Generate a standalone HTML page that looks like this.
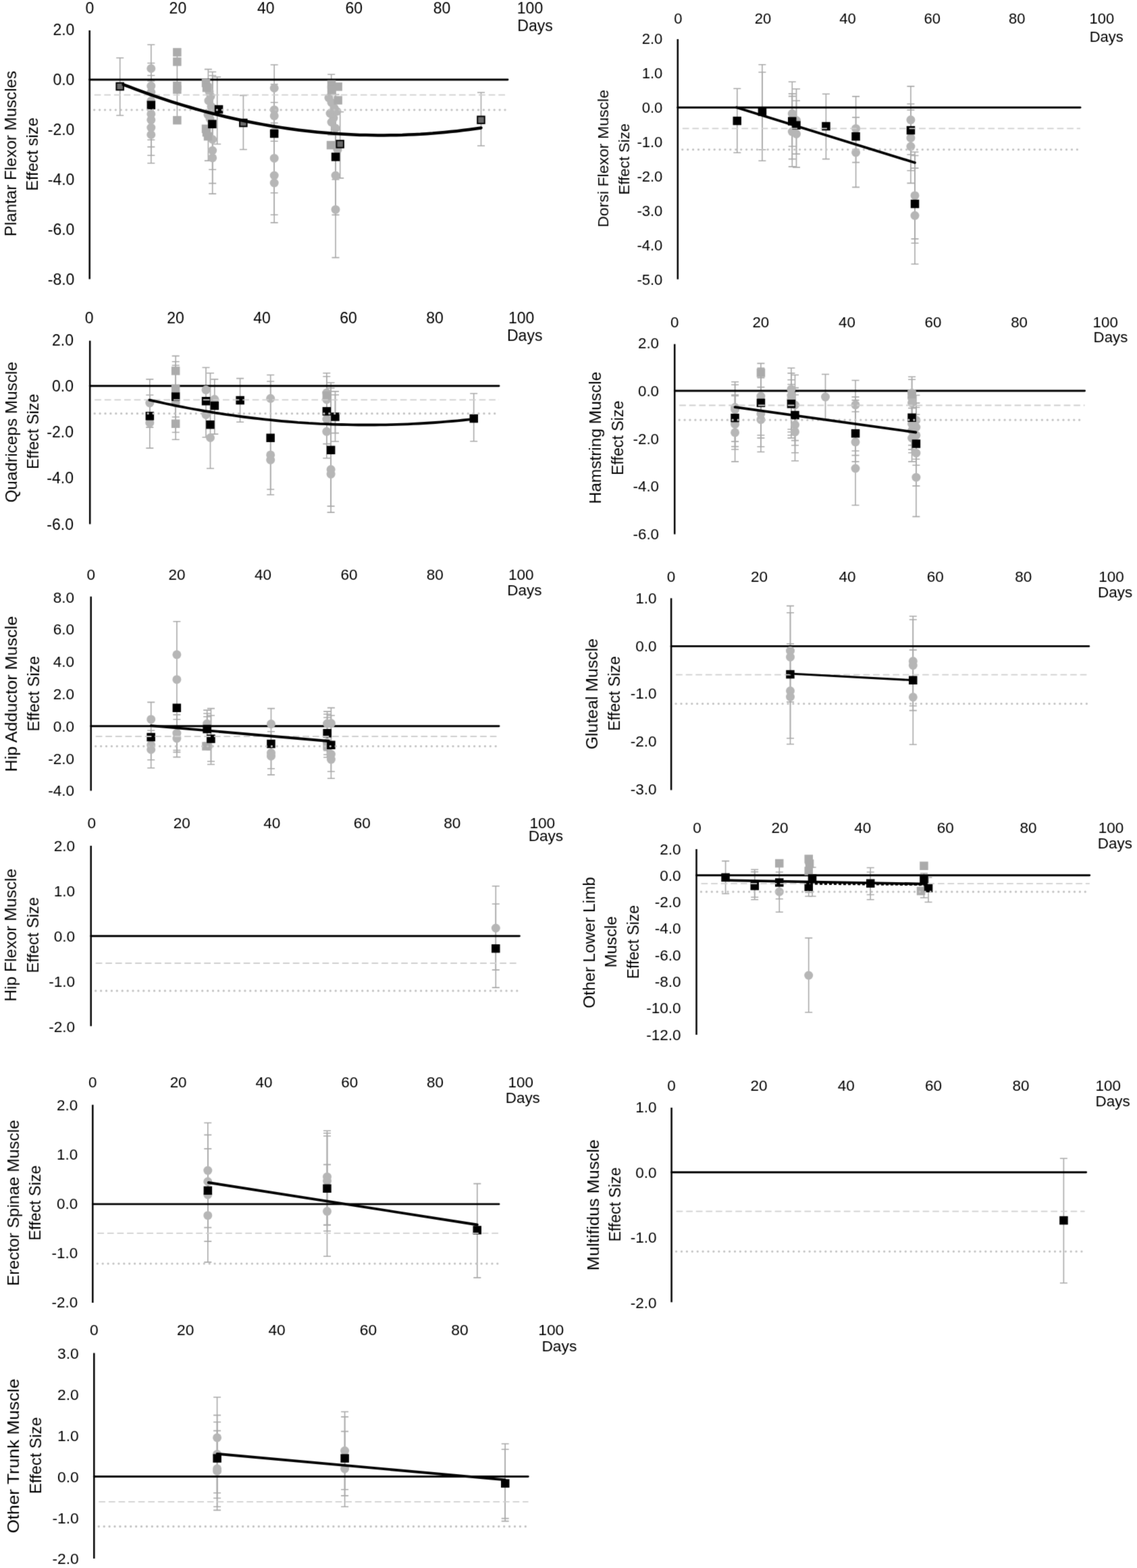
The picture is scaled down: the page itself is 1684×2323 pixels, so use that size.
<!DOCTYPE html>
<html><head><meta charset="utf-8"><title>Effect size over days by muscle group</title>
<style>
html,body{margin:0;padding:0;background:#fff;}
svg{display:block;}
text{font-family:"Liberation Sans",Arial,sans-serif;fill:#000;}
</style></head>
<body>
<svg width="1684" height="2323" viewBox="0 0 1684 2323">
<defs><filter id="soft" color-interpolation-filters="sRGB" filterUnits="userSpaceOnUse" x="0" y="0" width="1684" height="2323"><feConvolveMatrix order="3" kernelMatrix="0.0192 0.1001 0.0192 0.1001 0.5228 0.1001 0.0192 0.1001 0.0192" edgeMode="none"/></filter></defs>
<rect width="1684" height="2323" fill="#fff"/>
<g filter="url(#soft)">
<text x="133.0" y="20.4" font-size="23.0" text-anchor="middle">0</text>
<text x="263.4" y="20.4" font-size="23.0" text-anchor="middle">20</text>
<text x="393.8" y="20.4" font-size="23.0" text-anchor="middle">40</text>
<text x="524.2" y="20.4" font-size="23.0" text-anchor="middle">60</text>
<text x="654.6" y="20.4" font-size="23.0" text-anchor="middle">80</text>
<text x="785.0" y="20.4" font-size="23.0" text-anchor="middle">100</text>
<text x="766.3" y="45.6" font-size="23.0">Days</text>
<text x="110.4" y="52.3" font-size="23.0" text-anchor="end">2.0</text>
<text x="110.4" y="126.2" font-size="23.0" text-anchor="end">0.0</text>
<text x="110.4" y="200.1" font-size="23.0" text-anchor="end">-2.0</text>
<text x="110.4" y="274.0" font-size="23.0" text-anchor="end">-4.0</text>
<text x="110.4" y="347.9" font-size="23.0" text-anchor="end">-6.0</text>
<text x="110.4" y="421.8" font-size="23.0" text-anchor="end">-8.0</text>
<text transform="translate(24.0,350.2) rotate(-90)" font-size="23.8" textLength="245.2" lengthAdjust="spacingAndGlyphs">Plantar Flexor Muscles</text>
<text transform="translate(56.3,282.8) rotate(-90)" font-size="23.8" textLength="108.6" lengthAdjust="spacingAndGlyphs">Effect size</text>
<path d="M177.7 85.7V171.0M172.2 85.7H183.2M172.2 171.0H183.2" stroke="#a9a9a9" stroke-width="1.6" fill="none"/>
<path d="M223.8 66.3V241.7M218.3 66.3H229.3M218.3 241.7H229.3" stroke="#a9a9a9" stroke-width="1.6" fill="none"/>
<path d="M223.8 93.5V230.2M218.3 93.5H229.3M218.3 230.2H229.3" stroke="#a9a9a9" stroke-width="1.6" fill="none"/>
<path d="M223.8 111.7V217.6M218.3 111.7H229.3M218.3 217.6H229.3" stroke="#a9a9a9" stroke-width="1.6" fill="none"/>
<path d="M223.8 120.0V207.2M218.3 120.0H229.3M218.3 207.2H229.3" stroke="#a9a9a9" stroke-width="1.6" fill="none"/>
<path d="M262.4 77.4V178.2M256.9 77.4H267.9M256.9 178.2H267.9" stroke="#a9a9a9" stroke-width="1.6" fill="none"/>
<path d="M308.4 102.6V238.1M302.9 102.6H313.9M302.9 238.1H313.9" stroke="#a9a9a9" stroke-width="1.6" fill="none"/>
<path d="M314.7 106.5V287.1M309.2 106.5H320.2M309.2 287.1H320.2" stroke="#a9a9a9" stroke-width="1.6" fill="none"/>
<path d="M314.7 112.0V271.6M309.2 112.0H320.2M309.2 271.6H320.2" stroke="#a9a9a9" stroke-width="1.6" fill="none"/>
<path d="M314.7 118.0V251.2M309.2 118.0H320.2M309.2 251.2H320.2" stroke="#a9a9a9" stroke-width="1.6" fill="none"/>
<path d="M321.7 114.0V213.5M316.2 114.0H327.2M316.2 213.5H327.2" stroke="#a9a9a9" stroke-width="1.6" fill="none"/>
<path d="M360.4 141.4V221.5M354.9 141.4H365.9M354.9 221.5H365.9" stroke="#a9a9a9" stroke-width="1.6" fill="none"/>
<path d="M406.2 96.0V329.9M400.7 96.0H411.7M400.7 329.9H411.7" stroke="#a9a9a9" stroke-width="1.6" fill="none"/>
<path d="M406.2 124.8V318.2M400.7 124.8H411.7M400.7 318.2H411.7" stroke="#a9a9a9" stroke-width="1.6" fill="none"/>
<path d="M406.2 151.8V285.8M400.7 151.8H411.7M400.7 285.8H411.7" stroke="#a9a9a9" stroke-width="1.6" fill="none"/>
<path d="M406.2 182.2V209.2M400.7 182.2H411.7M400.7 209.2H411.7" stroke="#a9a9a9" stroke-width="1.6" fill="none"/>
<path d="M490.7 110.2V200.0M485.2 110.2H496.2M485.2 200.0H496.2" stroke="#a9a9a9" stroke-width="1.6" fill="none"/>
<path d="M497.0 128.0V381.6M491.5 128.0H502.5M491.5 381.6H502.5" stroke="#a9a9a9" stroke-width="1.6" fill="none"/>
<path d="M497.0 140.0V318.4M491.5 140.0H502.5M491.5 318.4H502.5" stroke="#a9a9a9" stroke-width="1.6" fill="none"/>
<path d="M497.0 150.0V266.0M491.5 150.0H502.5M491.5 266.0H502.5" stroke="#a9a9a9" stroke-width="1.6" fill="none"/>
<path d="M503.7 165.7V263.9M498.2 165.7H509.2M498.2 263.9H509.2" stroke="#a9a9a9" stroke-width="1.6" fill="none"/>
<path d="M712.5 137.0V216.0M707.0 137.0H718.0M707.0 216.0H718.0" stroke="#a9a9a9" stroke-width="1.6" fill="none"/>
<line x1="132.7" y1="118.0" x2="752.0" y2="118.0" stroke="#000" stroke-width="2.9" stroke-linecap="round"/>
<line x1="132.7" y1="44.9" x2="132.7" y2="413.5" stroke="#000" stroke-width="2.5"/>
<circle cx="223.8" cy="101.5" r="6.5" fill="#b6b6b6"/>
<circle cx="223.8" cy="127.3" r="6.5" fill="#b6b6b6"/>
<circle cx="223.8" cy="136.6" r="6.5" fill="#b6b6b6"/>
<circle cx="223.8" cy="149.7" r="6.5" fill="#b6b6b6"/>
<circle cx="223.8" cy="168.9" r="6.5" fill="#b6b6b6"/>
<circle cx="223.8" cy="177.6" r="6.5" fill="#b6b6b6"/>
<circle cx="223.8" cy="189.1" r="6.5" fill="#b6b6b6"/>
<circle cx="223.8" cy="199.5" r="6.5" fill="#b6b6b6"/>
<circle cx="308.0" cy="128.0" r="6.5" fill="#b6b6b6"/>
<circle cx="310.0" cy="136.0" r="6.5" fill="#b6b6b6"/>
<circle cx="312.0" cy="142.6" r="6.5" fill="#b6b6b6"/>
<circle cx="309.0" cy="149.2" r="6.5" fill="#b6b6b6"/>
<circle cx="313.0" cy="158.0" r="6.5" fill="#b6b6b6"/>
<circle cx="316.6" cy="161.2" r="6.5" fill="#b6b6b6"/>
<circle cx="308.0" cy="170.0" r="6.5" fill="#b6b6b6"/>
<circle cx="311.0" cy="176.0" r="6.5" fill="#b6b6b6"/>
<circle cx="314.7" cy="206.5" r="6.5" fill="#b6b6b6"/>
<circle cx="314.7" cy="223.0" r="6.5" fill="#b6b6b6"/>
<circle cx="314.7" cy="233.9" r="6.5" fill="#b6b6b6"/>
<circle cx="406.2" cy="130.5" r="6.5" fill="#b6b6b6"/>
<circle cx="406.2" cy="162.7" r="6.5" fill="#b6b6b6"/>
<circle cx="406.2" cy="171.7" r="6.5" fill="#b6b6b6"/>
<circle cx="406.2" cy="195.0" r="6.5" fill="#b6b6b6"/>
<circle cx="406.2" cy="234.4" r="6.5" fill="#b6b6b6"/>
<circle cx="406.2" cy="260.0" r="6.5" fill="#b6b6b6"/>
<circle cx="406.2" cy="271.0" r="6.5" fill="#b6b6b6"/>
<circle cx="487.0" cy="145.0" r="6.5" fill="#b6b6b6"/>
<circle cx="491.0" cy="152.0" r="6.5" fill="#b6b6b6"/>
<circle cx="495.0" cy="160.0" r="6.5" fill="#b6b6b6"/>
<circle cx="489.0" cy="168.0" r="6.5" fill="#b6b6b6"/>
<circle cx="494.0" cy="175.0" r="6.5" fill="#b6b6b6"/>
<circle cx="499.0" cy="165.0" r="6.5" fill="#b6b6b6"/>
<circle cx="491.0" cy="181.0" r="6.5" fill="#b6b6b6"/>
<circle cx="497.0" cy="190.0" r="6.5" fill="#b6b6b6"/>
<circle cx="497.0" cy="260.0" r="6.5" fill="#b6b6b6"/>
<circle cx="497.0" cy="310.4" r="6.5" fill="#b6b6b6"/>
<circle cx="500.0" cy="222.0" r="6.5" fill="#b6b6b6"/>
<rect x="256.1" y="71.2" width="12.5" height="12.5" fill="#ababab"/>
<rect x="256.1" y="85.2" width="12.5" height="12.5" fill="#ababab"/>
<rect x="256.1" y="121.0" width="12.5" height="12.5" fill="#ababab"/>
<rect x="256.1" y="126.4" width="12.5" height="12.5" fill="#ababab"/>
<rect x="256.1" y="171.9" width="12.5" height="12.5" fill="#ababab"/>
<rect x="298.8" y="116.7" width="12.5" height="12.5" fill="#ababab"/>
<rect x="299.8" y="123.8" width="12.5" height="12.5" fill="#ababab"/>
<rect x="298.8" y="184.6" width="12.5" height="12.5" fill="#ababab"/>
<rect x="299.8" y="189.9" width="12.5" height="12.5" fill="#ababab"/>
<rect x="301.8" y="195.8" width="12.5" height="12.5" fill="#ababab"/>
<rect x="484.8" y="118.8" width="12.5" height="12.5" fill="#ababab"/>
<rect x="484.8" y="126.8" width="12.5" height="12.5" fill="#ababab"/>
<rect x="494.4" y="122.2" width="12.5" height="12.5" fill="#ababab"/>
<rect x="494.4" y="142.3" width="12.5" height="12.5" fill="#ababab"/>
<rect x="483.8" y="208.8" width="12.5" height="12.5" fill="#ababab"/>
<rect x="172.4" y="122.8" width="10.5" height="10.5" fill="#6a6a6a" stroke="#000" stroke-width="2"/>
<rect x="355.1" y="176.8" width="10.5" height="10.5" fill="#6a6a6a" stroke="#000" stroke-width="2"/>
<rect x="498.4" y="208.2" width="10.5" height="10.5" fill="#6a6a6a" stroke="#000" stroke-width="2"/>
<rect x="707.2" y="172.4" width="10.5" height="10.5" fill="#6a6a6a" stroke="#000" stroke-width="2"/>
<rect x="217.6" y="149.4" width="12.5" height="12.5" fill="#000"/>
<rect x="308.1" y="177.6" width="12.5" height="12.5" fill="#000"/>
<rect x="399.9" y="191.7" width="12.5" height="12.5" fill="#000"/>
<rect x="490.8" y="226.2" width="12.5" height="12.5" fill="#000"/>
<rect x="317.8" y="155.8" width="12.5" height="12.5" fill="#000"/>
<line x1="139.7" y1="140.6" x2="751.0" y2="140.6" stroke="#cfcfcf" stroke-width="1.8" stroke-dasharray="9.7 4.9"/>
<line x1="139.7" y1="162.8" x2="751.0" y2="162.8" stroke="#c2c2c2" stroke-width="3.3" stroke-linecap="round" stroke-dasharray="0 7.9"/>
<path d="M182.7 125.3 L191.7 128.7 L200.7 132.1 L209.6 135.4 L218.6 138.7 L227.6 141.8 L236.6 144.9 L245.6 147.9 L254.5 150.8 L263.5 153.6 L272.5 156.3 L281.5 159.0 L290.5 161.6 L299.4 164.1 L308.4 166.5 L317.4 168.8 L326.4 171.0 L335.4 173.2 L344.3 175.3 L353.3 177.3 L362.3 179.2 L371.3 181.0 L380.3 182.8 L389.2 184.4 L398.2 186.0 L407.2 187.5 L416.2 188.9 L425.2 190.3 L434.1 191.5 L443.1 192.7 L452.1 193.8 L461.1 194.8 L470.0 195.7 L479.0 196.5 L488.0 197.3 L497.0 198.0 L506.0 198.6 L514.9 199.1 L523.9 199.5 L532.9 199.9 L541.9 200.1 L550.9 200.3 L559.8 200.4 L568.8 200.4 L577.8 200.3 L586.8 200.2 L595.8 200.0 L604.7 199.6 L613.7 199.2 L622.7 198.8 L631.7 198.2 L640.7 197.6 L649.6 196.8 L658.6 196.0 L667.6 195.1 L676.6 194.2 L685.6 193.1 L694.5 192.0 L703.5 190.7 L712.5 189.4" stroke="#000" stroke-width="4.5" fill="none" stroke-linecap="round" stroke-linejoin="round"/>
<text x="1004.4" y="34.5" font-size="22.0" text-anchor="middle">0</text>
<text x="1129.9" y="34.5" font-size="22.0" text-anchor="middle">20</text>
<text x="1255.4" y="34.5" font-size="22.0" text-anchor="middle">40</text>
<text x="1380.8" y="34.5" font-size="22.0" text-anchor="middle">60</text>
<text x="1506.3" y="34.5" font-size="22.0" text-anchor="middle">80</text>
<text x="1631.8" y="34.5" font-size="22.0" text-anchor="middle">100</text>
<text x="1613.7" y="61.6" font-size="22.0">Days</text>
<text x="981.3" y="65.0" font-size="22.0" text-anchor="end">2.0</text>
<text x="981.3" y="116.0" font-size="22.0" text-anchor="end">1.0</text>
<text x="981.3" y="167.0" font-size="22.0" text-anchor="end">0.0</text>
<text x="981.3" y="218.0" font-size="22.0" text-anchor="end">-1.0</text>
<text x="981.3" y="269.0" font-size="22.0" text-anchor="end">-2.0</text>
<text x="981.3" y="320.0" font-size="22.0" text-anchor="end">-3.0</text>
<text x="981.3" y="371.0" font-size="22.0" text-anchor="end">-4.0</text>
<text x="981.3" y="422.0" font-size="22.0" text-anchor="end">-5.0</text>
<text transform="translate(900.8,336.8) rotate(-90)" font-size="22.8" textLength="203.8" lengthAdjust="spacingAndGlyphs">Dorsi Flexor Muscle</text>
<text transform="translate(931.8,288.5) rotate(-90)" font-size="22.8" textLength="105.6" lengthAdjust="spacingAndGlyphs">Effect Size</text>
<path d="M1091.8 131.3V226.3M1086.3 131.3H1097.3M1086.3 226.3H1097.3" stroke="#a9a9a9" stroke-width="1.6" fill="none"/>
<path d="M1128.9 95.8V238.2M1123.4 95.8H1134.4M1123.4 238.2H1134.4" stroke="#a9a9a9" stroke-width="1.6" fill="none"/>
<path d="M1128.9 107.0V221.8M1123.4 107.0H1134.4M1123.4 221.8H1134.4" stroke="#a9a9a9" stroke-width="1.6" fill="none"/>
<path d="M1173.3 121.2V246.9M1167.8 121.2H1178.8M1167.8 246.9H1178.8" stroke="#a9a9a9" stroke-width="1.6" fill="none"/>
<path d="M1173.3 138.9V235.6M1167.8 138.9H1178.8M1167.8 235.6H1178.8" stroke="#a9a9a9" stroke-width="1.6" fill="none"/>
<path d="M1173.3 142.6V216.8M1167.8 142.6H1178.8M1167.8 216.8H1178.8" stroke="#a9a9a9" stroke-width="1.6" fill="none"/>
<path d="M1179.5 131.7V247.9M1174.0 131.7H1185.0M1174.0 247.9H1185.0" stroke="#a9a9a9" stroke-width="1.6" fill="none"/>
<path d="M1179.5 149.2V228.1M1174.0 149.2H1185.0M1174.0 228.1H1185.0" stroke="#a9a9a9" stroke-width="1.6" fill="none"/>
<path d="M1223.4 139.3V235.6M1217.9 139.3H1228.9M1217.9 235.6H1228.9" stroke="#a9a9a9" stroke-width="1.6" fill="none"/>
<path d="M1267.6 142.9V277.4M1262.1 142.9H1273.1M1262.1 277.4H1273.1" stroke="#a9a9a9" stroke-width="1.6" fill="none"/>
<path d="M1267.6 173.9V240.6M1262.1 173.9H1273.1M1262.1 240.6H1273.1" stroke="#a9a9a9" stroke-width="1.6" fill="none"/>
<path d="M1348.9 127.9V271.4M1343.4 127.9H1354.4M1343.4 271.4H1354.4" stroke="#a9a9a9" stroke-width="1.6" fill="none"/>
<path d="M1348.9 154.0V252.7M1343.4 154.0H1354.4M1343.4 252.7H1354.4" stroke="#a9a9a9" stroke-width="1.6" fill="none"/>
<path d="M1348.9 163.0V229.0M1343.4 163.0H1354.4M1343.4 229.0H1354.4" stroke="#a9a9a9" stroke-width="1.6" fill="none"/>
<path d="M1355.0 225.2V391.3M1349.5 225.2H1360.5M1349.5 391.3H1360.5" stroke="#a9a9a9" stroke-width="1.6" fill="none"/>
<path d="M1355.0 230.5V360.2M1349.5 230.5H1360.5M1349.5 360.2H1360.5" stroke="#a9a9a9" stroke-width="1.6" fill="none"/>
<path d="M1355.0 249.1V353.9M1349.5 249.1H1360.5M1349.5 353.9H1360.5" stroke="#a9a9a9" stroke-width="1.6" fill="none"/>
<line x1="1003.8" y1="159.2" x2="1600.0" y2="159.2" stroke="#000" stroke-width="2.9" stroke-linecap="round"/>
<line x1="1003.8" y1="57.9" x2="1003.8" y2="413.8" stroke="#000" stroke-width="2.5"/>
<circle cx="1173.3" cy="168.3" r="6.5" fill="#b6b6b6"/>
<circle cx="1173.3" cy="195.1" r="6.5" fill="#b6b6b6"/>
<circle cx="1179.5" cy="178.4" r="6.5" fill="#b6b6b6"/>
<circle cx="1179.5" cy="198.4" r="6.5" fill="#b6b6b6"/>
<circle cx="1267.6" cy="190.4" r="6.5" fill="#b6b6b6"/>
<circle cx="1267.6" cy="225.9" r="6.5" fill="#b6b6b6"/>
<circle cx="1348.9" cy="177.6" r="6.5" fill="#b6b6b6"/>
<circle cx="1348.9" cy="204.4" r="6.5" fill="#b6b6b6"/>
<circle cx="1348.9" cy="217.1" r="6.5" fill="#b6b6b6"/>
<circle cx="1355.0" cy="289.7" r="6.5" fill="#b6b6b6"/>
<circle cx="1355.0" cy="319.3" r="6.5" fill="#b6b6b6"/>
<rect x="1085.5" y="172.8" width="12.5" height="12.5" fill="#000"/>
<rect x="1122.7" y="159.3" width="12.5" height="12.5" fill="#000"/>
<rect x="1167.0" y="173.4" width="12.5" height="12.5" fill="#000"/>
<rect x="1173.2" y="179.4" width="12.5" height="12.5" fill="#000"/>
<rect x="1217.2" y="180.8" width="12.5" height="12.5" fill="#000"/>
<rect x="1261.3" y="195.9" width="12.5" height="12.5" fill="#000"/>
<rect x="1342.7" y="186.8" width="12.5" height="12.5" fill="#000"/>
<rect x="1348.8" y="295.8" width="12.5" height="12.5" fill="#000"/>
<line x1="1010.8" y1="190.4" x2="1600.0" y2="190.4" stroke="#cfcfcf" stroke-width="1.8" stroke-dasharray="9.7 4.9"/>
<line x1="1010.8" y1="221.6" x2="1600.0" y2="221.6" stroke="#c2c2c2" stroke-width="3.3" stroke-linecap="round" stroke-dasharray="0 7.9"/>
<line x1="1091.0" y1="159.2" x2="1355.0" y2="241.0" stroke="#000" stroke-width="3.8" stroke-linecap="round"/>
<text x="132.1" y="479.4" font-size="23.0" text-anchor="middle">0</text>
<text x="260.1" y="479.4" font-size="23.0" text-anchor="middle">20</text>
<text x="388.1" y="479.4" font-size="23.0" text-anchor="middle">40</text>
<text x="516.1" y="479.4" font-size="23.0" text-anchor="middle">60</text>
<text x="644.1" y="479.4" font-size="23.0" text-anchor="middle">80</text>
<text x="772.1" y="479.4" font-size="23.0" text-anchor="middle">100</text>
<text x="751.0" y="505.1" font-size="23.0">Days</text>
<text x="109.0" y="511.8" font-size="23.0" text-anchor="end">2.0</text>
<text x="109.0" y="580.0" font-size="23.0" text-anchor="end">0.0</text>
<text x="109.0" y="648.2" font-size="23.0" text-anchor="end">-2.0</text>
<text x="109.0" y="716.4" font-size="23.0" text-anchor="end">-4.0</text>
<text x="109.0" y="784.6" font-size="23.0" text-anchor="end">-6.0</text>
<text transform="translate(24.8,744.6) rotate(-90)" font-size="23.8" textLength="208.7" lengthAdjust="spacingAndGlyphs">Quadriceps Muscle</text>
<text transform="translate(57.1,695.0) rotate(-90)" font-size="23.8" textLength="111.5" lengthAdjust="spacingAndGlyphs">Effect Size</text>
<path d="M221.8 561.9V663.9M216.3 561.9H227.3M216.3 663.9H227.3" stroke="#a9a9a9" stroke-width="1.6" fill="none"/>
<path d="M221.8 585.2V633.1M216.3 585.2H227.3M216.3 633.1H227.3" stroke="#a9a9a9" stroke-width="1.6" fill="none"/>
<path d="M260.2 527.4V651.2M254.7 527.4H265.7M254.7 651.2H265.7" stroke="#a9a9a9" stroke-width="1.6" fill="none"/>
<path d="M260.2 535.8V640.5M254.7 535.8H265.7M254.7 640.5H265.7" stroke="#a9a9a9" stroke-width="1.6" fill="none"/>
<path d="M260.2 541.2V617.7M254.7 541.2H265.7M254.7 617.7H265.7" stroke="#a9a9a9" stroke-width="1.6" fill="none"/>
<path d="M305.0 544.5V647.8M299.5 544.5H310.5M299.5 647.8H310.5" stroke="#a9a9a9" stroke-width="1.6" fill="none"/>
<path d="M311.5 552.8V694.0M306.0 552.8H317.0M306.0 694.0H317.0" stroke="#a9a9a9" stroke-width="1.6" fill="none"/>
<path d="M317.8 561.9V643.1M312.3 561.9H323.3M312.3 643.1H323.3" stroke="#a9a9a9" stroke-width="1.6" fill="none"/>
<path d="M355.6 560.6V625.3M350.1 560.6H361.1M350.1 625.3H361.1" stroke="#a9a9a9" stroke-width="1.6" fill="none"/>
<path d="M400.7 555.5V733.0M395.2 555.5H406.2M395.2 733.0H406.2" stroke="#a9a9a9" stroke-width="1.6" fill="none"/>
<path d="M400.7 565.0V725.0M395.2 565.0H406.2M395.2 725.0H406.2" stroke="#a9a9a9" stroke-width="1.6" fill="none"/>
<path d="M483.8 552.7V678.8M478.3 552.7H489.3M478.3 678.8H489.3" stroke="#a9a9a9" stroke-width="1.6" fill="none"/>
<path d="M483.8 557.8V657.6M478.3 557.8H489.3M478.3 657.6H489.3" stroke="#a9a9a9" stroke-width="1.6" fill="none"/>
<path d="M490.1 567.0V759.1M484.6 567.0H495.6M484.6 759.1H495.6" stroke="#a9a9a9" stroke-width="1.6" fill="none"/>
<path d="M490.1 575.0V749.9M484.6 575.0H495.6M484.6 749.9H495.6" stroke="#a9a9a9" stroke-width="1.6" fill="none"/>
<path d="M496.5 579.9V654.0M491.0 579.9H502.0M491.0 654.0H502.0" stroke="#a9a9a9" stroke-width="1.6" fill="none"/>
<path d="M496.5 585.0V641.6M491.0 585.0H502.0M491.0 641.6H502.0" stroke="#a9a9a9" stroke-width="1.6" fill="none"/>
<path d="M701.7 583.0V653.7M696.2 583.0H707.2M696.2 653.7H707.2" stroke="#a9a9a9" stroke-width="1.6" fill="none"/>
<line x1="133.2" y1="571.8" x2="739.0" y2="571.8" stroke="#000" stroke-width="2.9" stroke-linecap="round"/>
<line x1="133.2" y1="504.7" x2="133.2" y2="776.6" stroke="#000" stroke-width="2.5"/>
<circle cx="221.8" cy="597.0" r="6.5" fill="#b6b6b6"/>
<circle cx="221.8" cy="626.4" r="6.5" fill="#b6b6b6"/>
<circle cx="260.2" cy="597.0" r="6.5" fill="#b6b6b6"/>
<circle cx="305.0" cy="577.6" r="6.5" fill="#b6b6b6"/>
<circle cx="305.0" cy="614.4" r="6.5" fill="#b6b6b6"/>
<circle cx="311.5" cy="648.5" r="6.5" fill="#b6b6b6"/>
<circle cx="317.8" cy="591.6" r="6.5" fill="#b6b6b6"/>
<circle cx="400.7" cy="590.3" r="6.5" fill="#b6b6b6"/>
<circle cx="400.7" cy="673.9" r="6.5" fill="#b6b6b6"/>
<circle cx="400.7" cy="681.3" r="6.5" fill="#b6b6b6"/>
<circle cx="483.8" cy="582.0" r="6.5" fill="#b6b6b6"/>
<circle cx="483.8" cy="592.0" r="6.5" fill="#b6b6b6"/>
<circle cx="483.8" cy="621.0" r="6.5" fill="#b6b6b6"/>
<circle cx="483.8" cy="639.3" r="6.5" fill="#b6b6b6"/>
<circle cx="490.1" cy="695.5" r="6.5" fill="#b6b6b6"/>
<circle cx="490.1" cy="702.3" r="6.5" fill="#b6b6b6"/>
<rect x="253.9" y="543.2" width="12.5" height="12.5" fill="#ababab"/>
<rect x="253.9" y="569.4" width="12.5" height="12.5" fill="#ababab"/>
<rect x="253.9" y="621.5" width="12.5" height="12.5" fill="#ababab"/>
<rect x="477.6" y="579.8" width="12.5" height="12.5" fill="#ababab"/>
<rect x="215.6" y="610.1" width="12.5" height="12.5" fill="#000"/>
<rect x="253.9" y="581.4" width="12.5" height="12.5" fill="#000"/>
<rect x="298.8" y="588.0" width="12.5" height="12.5" fill="#000"/>
<rect x="305.2" y="622.9" width="12.5" height="12.5" fill="#000"/>
<rect x="311.6" y="594.8" width="12.5" height="12.5" fill="#000"/>
<rect x="349.4" y="586.8" width="12.5" height="12.5" fill="#000"/>
<rect x="394.4" y="642.5" width="12.5" height="12.5" fill="#000"/>
<rect x="477.6" y="603.1" width="12.5" height="12.5" fill="#000"/>
<rect x="483.9" y="660.5" width="12.5" height="12.5" fill="#000"/>
<rect x="490.2" y="611.2" width="12.5" height="12.5" fill="#000"/>
<rect x="695.5" y="613.8" width="12.5" height="12.5" fill="#000"/>
<line x1="140.2" y1="592.3" x2="739.0" y2="592.3" stroke="#cfcfcf" stroke-width="1.8" stroke-dasharray="9.7 4.9"/>
<line x1="140.2" y1="612.7" x2="739.0" y2="612.7" stroke="#c2c2c2" stroke-width="3.3" stroke-linecap="round" stroke-dasharray="0 7.9"/>
<path d="M221.3 592.6 L229.4 594.4 L237.6 596.2 L245.7 598.0 L253.9 599.7 L262.0 601.3 L270.2 602.9 L278.3 604.5 L286.4 606.0 L294.6 607.4 L302.7 608.9 L310.9 610.2 L319.0 611.6 L327.2 612.8 L335.3 614.1 L343.4 615.2 L351.6 616.4 L359.7 617.5 L367.9 618.5 L376.0 619.5 L384.1 620.4 L392.3 621.3 L400.4 622.2 L408.6 623.0 L416.7 623.8 L424.9 624.5 L433.0 625.1 L441.1 625.8 L449.3 626.3 L457.4 626.9 L465.6 627.3 L473.7 627.8 L481.9 628.1 L490.0 628.5 L498.1 628.8 L506.3 629.0 L514.4 629.2 L522.6 629.4 L530.7 629.5 L538.9 629.5 L547.0 629.5 L555.1 629.5 L563.3 629.4 L571.4 629.3 L579.6 629.1 L587.7 628.9 L595.8 628.6 L604.0 628.3 L612.1 627.9 L620.3 627.5 L628.4 627.0 L636.6 626.5 L644.7 626.0 L652.8 625.4 L661.0 624.7 L669.1 624.0 L677.3 623.3 L685.4 622.5 L693.6 621.7 L701.7 620.8" stroke="#000" stroke-width="3.8" fill="none" stroke-linecap="round" stroke-linejoin="round"/>
<text x="999.2" y="484.8" font-size="22.3" text-anchor="middle">0</text>
<text x="1126.8" y="484.8" font-size="22.3" text-anchor="middle">20</text>
<text x="1254.4" y="484.8" font-size="22.3" text-anchor="middle">40</text>
<text x="1382.0" y="484.8" font-size="22.3" text-anchor="middle">60</text>
<text x="1509.6" y="484.8" font-size="22.3" text-anchor="middle">80</text>
<text x="1637.2" y="484.8" font-size="22.3" text-anchor="middle">100</text>
<text x="1619.6" y="506.7" font-size="22.3">Days</text>
<text x="976.0" y="516.3" font-size="22.3" text-anchor="end">2.0</text>
<text x="976.0" y="586.9" font-size="22.3" text-anchor="end">0.0</text>
<text x="976.0" y="657.5" font-size="22.3" text-anchor="end">-2.0</text>
<text x="976.0" y="728.1" font-size="22.3" text-anchor="end">-4.0</text>
<text x="976.0" y="798.7" font-size="22.3" text-anchor="end">-6.0</text>
<text transform="translate(890.3,746.5) rotate(-90)" font-size="23.1" textLength="195.8" lengthAdjust="spacingAndGlyphs">Hamstring Muscle</text>
<text transform="translate(922.5,704.1) rotate(-90)" font-size="23.1" textLength="110.6" lengthAdjust="spacingAndGlyphs">Effect Size</text>
<path d="M1088.6 565.8V683.9M1083.1 565.8H1094.1M1083.1 683.9H1094.1" stroke="#a9a9a9" stroke-width="1.6" fill="none"/>
<path d="M1088.6 570.0V665.7M1083.1 570.0H1094.1M1083.1 665.7H1094.1" stroke="#a9a9a9" stroke-width="1.6" fill="none"/>
<path d="M1088.6 585.0V661.6M1083.1 585.0H1094.1M1083.1 661.6H1094.1" stroke="#a9a9a9" stroke-width="1.6" fill="none"/>
<path d="M1088.6 586.5V654.1M1083.1 586.5H1094.1M1083.1 654.1H1094.1" stroke="#a9a9a9" stroke-width="1.6" fill="none"/>
<path d="M1126.9 538.4V669.5M1121.4 538.4H1132.4M1121.4 669.5H1132.4" stroke="#a9a9a9" stroke-width="1.6" fill="none"/>
<path d="M1126.9 545.2V661.7M1121.4 545.2H1132.4M1121.4 661.7H1132.4" stroke="#a9a9a9" stroke-width="1.6" fill="none"/>
<path d="M1126.9 559.6V648.9M1121.4 559.6H1132.4M1121.4 648.9H1132.4" stroke="#a9a9a9" stroke-width="1.6" fill="none"/>
<path d="M1126.9 573.6V644.7M1121.4 573.6H1132.4M1121.4 644.7H1132.4" stroke="#a9a9a9" stroke-width="1.6" fill="none"/>
<path d="M1171.9 545.2V648.9M1166.4 545.2H1177.4M1166.4 648.9H1177.4" stroke="#a9a9a9" stroke-width="1.6" fill="none"/>
<path d="M1171.9 552.9V644.7M1166.4 552.9H1177.4M1166.4 644.7H1177.4" stroke="#a9a9a9" stroke-width="1.6" fill="none"/>
<path d="M1171.9 562.7V640.0M1166.4 562.7H1177.4M1166.4 640.0H1177.4" stroke="#a9a9a9" stroke-width="1.6" fill="none"/>
<path d="M1171.9 569.5V636.0M1166.4 569.5H1177.4M1166.4 636.0H1177.4" stroke="#a9a9a9" stroke-width="1.6" fill="none"/>
<path d="M1177.5 555.5V682.7M1172.0 555.5H1183.0M1172.0 682.7H1183.0" stroke="#a9a9a9" stroke-width="1.6" fill="none"/>
<path d="M1177.5 574.6V670.8M1172.0 574.6H1183.0M1172.0 670.8H1183.0" stroke="#a9a9a9" stroke-width="1.6" fill="none"/>
<path d="M1177.5 580.0V659.8M1172.0 580.0H1183.0M1172.0 659.8H1183.0" stroke="#a9a9a9" stroke-width="1.6" fill="none"/>
<path d="M1177.5 585.0V652.6M1172.0 585.0H1183.0M1172.0 652.6H1183.0" stroke="#a9a9a9" stroke-width="1.6" fill="none"/>
<path d="M1222.5 554.5V621.2M1217.0 554.5H1228.0M1217.0 621.2H1228.0" stroke="#a9a9a9" stroke-width="1.6" fill="none"/>
<path d="M1267.0 563.5V748.5M1261.5 563.5H1272.5M1261.5 748.5H1272.5" stroke="#a9a9a9" stroke-width="1.6" fill="none"/>
<path d="M1267.0 588.1V683.9M1261.5 588.1H1272.5M1261.5 683.9H1272.5" stroke="#a9a9a9" stroke-width="1.6" fill="none"/>
<path d="M1267.0 592.9V674.6M1261.5 592.9H1272.5M1261.5 674.6H1272.5" stroke="#a9a9a9" stroke-width="1.6" fill="none"/>
<path d="M1267.0 610.0V668.0M1261.5 610.0H1272.5M1261.5 668.0H1272.5" stroke="#a9a9a9" stroke-width="1.6" fill="none"/>
<path d="M1350.6 558.2V683.9M1345.1 558.2H1356.1M1345.1 683.9H1356.1" stroke="#a9a9a9" stroke-width="1.6" fill="none"/>
<path d="M1350.6 562.2V670.7M1345.1 562.2H1356.1M1345.1 670.7H1356.1" stroke="#a9a9a9" stroke-width="1.6" fill="none"/>
<path d="M1350.6 583.0V665.9M1345.1 583.0H1356.1M1345.1 665.9H1356.1" stroke="#a9a9a9" stroke-width="1.6" fill="none"/>
<path d="M1350.6 604.6V659.6M1345.1 604.6H1356.1M1345.1 659.6H1356.1" stroke="#a9a9a9" stroke-width="1.6" fill="none"/>
<path d="M1356.9 585.5V765.4M1351.4 585.5H1362.4M1351.4 765.4H1362.4" stroke="#a9a9a9" stroke-width="1.6" fill="none"/>
<path d="M1356.9 597.1V719.9M1351.4 597.1H1362.4M1351.4 719.9H1362.4" stroke="#a9a9a9" stroke-width="1.6" fill="none"/>
<path d="M1356.9 603.5V689.2M1351.4 603.5H1362.4M1351.4 689.2H1362.4" stroke="#a9a9a9" stroke-width="1.6" fill="none"/>
<path d="M1356.9 614.0V680.2M1351.4 614.0H1362.4M1351.4 680.2H1362.4" stroke="#a9a9a9" stroke-width="1.6" fill="none"/>
<line x1="999.2" y1="579.0" x2="1606.6" y2="579.0" stroke="#000" stroke-width="2.9" stroke-linecap="round"/>
<line x1="999.2" y1="509.8" x2="999.2" y2="791.5" stroke="#000" stroke-width="2.5"/>
<circle cx="1088.6" cy="603.6" r="6.5" fill="#b6b6b6"/>
<circle cx="1088.6" cy="606.7" r="6.5" fill="#b6b6b6"/>
<circle cx="1088.6" cy="628.4" r="6.5" fill="#b6b6b6"/>
<circle cx="1088.6" cy="640.8" r="6.5" fill="#b6b6b6"/>
<circle cx="1126.9" cy="587.0" r="6.5" fill="#b6b6b6"/>
<circle cx="1126.9" cy="612.9" r="6.5" fill="#b6b6b6"/>
<circle cx="1126.9" cy="621.7" r="6.5" fill="#b6b6b6"/>
<circle cx="1171.9" cy="576.7" r="6.5" fill="#b6b6b6"/>
<circle cx="1171.9" cy="586.0" r="6.5" fill="#b6b6b6"/>
<circle cx="1171.9" cy="592.0" r="6.5" fill="#b6b6b6"/>
<circle cx="1177.5" cy="629.4" r="6.5" fill="#b6b6b6"/>
<circle cx="1177.5" cy="639.8" r="6.5" fill="#b6b6b6"/>
<circle cx="1177.5" cy="600.0" r="6.5" fill="#b6b6b6"/>
<circle cx="1222.5" cy="588.1" r="6.5" fill="#b6b6b6"/>
<circle cx="1267.0" cy="599.8" r="6.5" fill="#b6b6b6"/>
<circle cx="1267.0" cy="654.8" r="6.5" fill="#b6b6b6"/>
<circle cx="1267.0" cy="694.0" r="6.5" fill="#b6b6b6"/>
<circle cx="1350.6" cy="582.3" r="6.5" fill="#b6b6b6"/>
<circle cx="1350.6" cy="590.0" r="6.5" fill="#b6b6b6"/>
<circle cx="1350.6" cy="597.0" r="6.5" fill="#b6b6b6"/>
<circle cx="1350.6" cy="627.8" r="6.5" fill="#b6b6b6"/>
<circle cx="1350.6" cy="638.0" r="6.5" fill="#b6b6b6"/>
<circle cx="1350.6" cy="649.0" r="6.5" fill="#b6b6b6"/>
<circle cx="1356.9" cy="622.5" r="6.5" fill="#b6b6b6"/>
<circle cx="1356.9" cy="633.0" r="6.5" fill="#b6b6b6"/>
<circle cx="1356.9" cy="644.8" r="6.5" fill="#b6b6b6"/>
<circle cx="1356.9" cy="671.2" r="6.5" fill="#b6b6b6"/>
<circle cx="1356.9" cy="707.2" r="6.5" fill="#b6b6b6"/>
<rect x="1120.7" y="546.1" width="12.5" height="12.5" fill="#ababab"/>
<rect x="1344.3" y="577.8" width="12.5" height="12.5" fill="#ababab"/>
<rect x="1082.3" y="612.9" width="12.5" height="12.5" fill="#000"/>
<rect x="1120.7" y="590.6" width="12.5" height="12.5" fill="#000"/>
<rect x="1165.7" y="592.1" width="12.5" height="12.5" fill="#000"/>
<rect x="1171.2" y="608.8" width="12.5" height="12.5" fill="#000"/>
<rect x="1260.8" y="635.9" width="12.5" height="12.5" fill="#000"/>
<rect x="1344.3" y="612.5" width="12.5" height="12.5" fill="#000"/>
<rect x="1350.7" y="651.2" width="12.5" height="12.5" fill="#000"/>
<line x1="1006.2" y1="600.5" x2="1606.6" y2="600.5" stroke="#cfcfcf" stroke-width="1.8" stroke-dasharray="9.7 4.9"/>
<line x1="1006.2" y1="622.2" x2="1606.6" y2="622.2" stroke="#c2c2c2" stroke-width="3.3" stroke-linecap="round" stroke-dasharray="0 7.9"/>
<line x1="1088.6" y1="603.1" x2="1356.4" y2="640.5" stroke="#000" stroke-width="3.8" stroke-linecap="round"/>
<text x="134.7" y="858.9" font-size="22.5" text-anchor="middle">0</text>
<text x="262.1" y="858.9" font-size="22.5" text-anchor="middle">20</text>
<text x="389.5" y="858.9" font-size="22.5" text-anchor="middle">40</text>
<text x="516.9" y="858.9" font-size="22.5" text-anchor="middle">60</text>
<text x="644.3" y="858.9" font-size="22.5" text-anchor="middle">80</text>
<text x="771.7" y="858.9" font-size="22.5" text-anchor="middle">100</text>
<text x="751.2" y="882.0" font-size="22.5">Days</text>
<text x="110.0" y="892.6" font-size="22.5" text-anchor="end">8.0</text>
<text x="110.0" y="940.4" font-size="22.5" text-anchor="end">6.0</text>
<text x="110.0" y="988.2" font-size="22.5" text-anchor="end">4.0</text>
<text x="110.0" y="1036.0" font-size="22.5" text-anchor="end">2.0</text>
<text x="110.0" y="1083.8" font-size="22.5" text-anchor="end">0.0</text>
<text x="110.0" y="1131.6" font-size="22.5" text-anchor="end">-2.0</text>
<text x="110.0" y="1179.4" font-size="22.5" text-anchor="end">-4.0</text>
<text transform="translate(24.7,1143.5) rotate(-90)" font-size="23.3" textLength="230.7" lengthAdjust="spacingAndGlyphs">Hip Adductor Muscle</text>
<text transform="translate(57.7,1083.4) rotate(-90)" font-size="23.3" textLength="111.5" lengthAdjust="spacingAndGlyphs">Effect Size</text>
<path d="M223.7 1040.4V1137.8M218.2 1040.4H229.2M218.2 1137.8H229.2" stroke="#a9a9a9" stroke-width="1.6" fill="none"/>
<path d="M223.7 1082.3V1125.7M218.2 1082.3H229.2M218.2 1125.7H229.2" stroke="#a9a9a9" stroke-width="1.6" fill="none"/>
<path d="M261.9 920.7V1121.6M256.4 920.7H267.4M256.4 1121.6H267.4" stroke="#a9a9a9" stroke-width="1.6" fill="none"/>
<path d="M261.9 1058.9V1114.4M256.4 1058.9H267.4M256.4 1114.4H267.4" stroke="#a9a9a9" stroke-width="1.6" fill="none"/>
<path d="M261.9 1065.7V1111.5M256.4 1065.7H267.4M256.4 1111.5H267.4" stroke="#a9a9a9" stroke-width="1.6" fill="none"/>
<path d="M306.7 1052.1V1108.0M301.2 1052.1H312.2M301.2 1108.0H312.2" stroke="#a9a9a9" stroke-width="1.6" fill="none"/>
<path d="M306.7 1057.0V1104.0M301.2 1057.0H312.2M301.2 1104.0H312.2" stroke="#a9a9a9" stroke-width="1.6" fill="none"/>
<path d="M306.7 1061.8V1100.0M301.2 1061.8H312.2M301.2 1100.0H312.2" stroke="#a9a9a9" stroke-width="1.6" fill="none"/>
<path d="M312.5 1049.6V1132.5M307.0 1049.6H318.0M307.0 1132.5H318.0" stroke="#a9a9a9" stroke-width="1.6" fill="none"/>
<path d="M312.5 1060.0V1128.0M307.0 1060.0H318.0M307.0 1128.0H318.0" stroke="#a9a9a9" stroke-width="1.6" fill="none"/>
<path d="M401.5 1049.6V1147.9M396.0 1049.6H407.0M396.0 1147.9H407.0" stroke="#a9a9a9" stroke-width="1.6" fill="none"/>
<path d="M401.5 1083.8V1138.7M396.0 1083.8H407.0M396.0 1138.7H407.0" stroke="#a9a9a9" stroke-width="1.6" fill="none"/>
<path d="M484.6 1054.1V1122.0M479.1 1054.1H490.1M479.1 1122.0H490.1" stroke="#a9a9a9" stroke-width="1.6" fill="none"/>
<path d="M484.6 1058.0V1118.0M479.1 1058.0H490.1M479.1 1118.0H490.1" stroke="#a9a9a9" stroke-width="1.6" fill="none"/>
<path d="M484.6 1063.0V1112.0M479.1 1063.0H490.1M479.1 1112.0H490.1" stroke="#a9a9a9" stroke-width="1.6" fill="none"/>
<path d="M490.4 1048.6V1153.3M484.9 1048.6H495.9M484.9 1153.3H495.9" stroke="#a9a9a9" stroke-width="1.6" fill="none"/>
<path d="M490.4 1060.0V1143.0M484.9 1060.0H495.9M484.9 1143.0H495.9" stroke="#a9a9a9" stroke-width="1.6" fill="none"/>
<line x1="134.7" y1="1075.8" x2="739.0" y2="1075.8" stroke="#000" stroke-width="2.9" stroke-linecap="round"/>
<line x1="134.7" y1="883.8" x2="134.7" y2="1171.6" stroke="#000" stroke-width="2.5"/>
<circle cx="223.7" cy="1065.7" r="6.5" fill="#b6b6b6"/>
<circle cx="223.7" cy="1103.7" r="6.5" fill="#b6b6b6"/>
<circle cx="223.7" cy="1110.5" r="6.5" fill="#b6b6b6"/>
<circle cx="261.9" cy="969.8" r="6.5" fill="#b6b6b6"/>
<circle cx="261.9" cy="1006.7" r="6.5" fill="#b6b6b6"/>
<circle cx="261.9" cy="1086.2" r="6.5" fill="#b6b6b6"/>
<circle cx="261.9" cy="1094.0" r="6.5" fill="#b6b6b6"/>
<circle cx="306.7" cy="1072.2" r="6.5" fill="#b6b6b6"/>
<circle cx="308.5" cy="1105.6" r="6.5" fill="#b6b6b6"/>
<circle cx="401.5" cy="1072.6" r="6.5" fill="#b6b6b6"/>
<circle cx="401.5" cy="1115.4" r="6.5" fill="#b6b6b6"/>
<circle cx="401.5" cy="1120.2" r="6.5" fill="#b6b6b6"/>
<circle cx="484.6" cy="1072.0" r="6.5" fill="#b6b6b6"/>
<circle cx="484.6" cy="1100.0" r="6.5" fill="#b6b6b6"/>
<circle cx="490.4" cy="1071.6" r="6.5" fill="#b6b6b6"/>
<circle cx="490.4" cy="1117.3" r="6.5" fill="#b6b6b6"/>
<circle cx="490.4" cy="1125.1" r="6.5" fill="#b6b6b6"/>
<rect x="299.2" y="1099.3" width="12.5" height="12.5" fill="#ababab"/>
<rect x="478.4" y="1098.8" width="12.5" height="12.5" fill="#ababab"/>
<rect x="217.4" y="1085.8" width="12.5" height="12.5" fill="#000"/>
<rect x="255.6" y="1042.5" width="12.5" height="12.5" fill="#000"/>
<rect x="300.4" y="1073.8" width="12.5" height="12.5" fill="#000"/>
<rect x="306.2" y="1088.3" width="12.5" height="12.5" fill="#000"/>
<rect x="395.2" y="1095.8" width="12.5" height="12.5" fill="#000"/>
<rect x="478.4" y="1080.0" width="12.5" height="12.5" fill="#000"/>
<rect x="484.1" y="1097.5" width="12.5" height="12.5" fill="#000"/>
<line x1="141.7" y1="1091.0" x2="739.0" y2="1091.0" stroke="#cfcfcf" stroke-width="1.8" stroke-dasharray="9.7 4.9"/>
<line x1="141.7" y1="1105.6" x2="739.0" y2="1105.6" stroke="#c2c2c2" stroke-width="3.3" stroke-linecap="round" stroke-dasharray="0 7.9"/>
<line x1="223.7" y1="1075.1" x2="487.0" y2="1098.0" stroke="#000" stroke-width="3.8" stroke-linecap="round"/>
<text x="994.1" y="861.5" font-size="22.5" text-anchor="middle">0</text>
<text x="1124.5" y="861.5" font-size="22.5" text-anchor="middle">20</text>
<text x="1254.9" y="861.5" font-size="22.5" text-anchor="middle">40</text>
<text x="1385.3" y="861.5" font-size="22.5" text-anchor="middle">60</text>
<text x="1515.7" y="861.5" font-size="22.5" text-anchor="middle">80</text>
<text x="1646.1" y="861.5" font-size="22.5" text-anchor="middle">100</text>
<text x="1626.1" y="884.6" font-size="22.5">Days</text>
<text x="972.6" y="893.7" font-size="22.5" text-anchor="end">1.0</text>
<text x="972.6" y="964.5" font-size="22.5" text-anchor="end">0.0</text>
<text x="972.6" y="1035.3" font-size="22.5" text-anchor="end">-1.0</text>
<text x="972.6" y="1106.1" font-size="22.5" text-anchor="end">-2.0</text>
<text x="972.6" y="1176.9" font-size="22.5" text-anchor="end">-3.0</text>
<text transform="translate(885.0,1110.2) rotate(-90)" font-size="23.3" textLength="164.2" lengthAdjust="spacingAndGlyphs">Gluteal Muscle</text>
<text transform="translate(917.7,1082.7) rotate(-90)" font-size="23.3" textLength="110.6" lengthAdjust="spacingAndGlyphs">Effect Size</text>
<path d="M1170.5 897.6V1102.5M1165.0 897.6H1176.0M1165.0 1102.5H1176.0" stroke="#a9a9a9" stroke-width="1.6" fill="none"/>
<path d="M1170.5 907.8V1093.8M1165.0 907.8H1176.0M1165.0 1093.8H1176.0" stroke="#a9a9a9" stroke-width="1.6" fill="none"/>
<path d="M1170.5 953.8V1040.0M1165.0 953.8H1176.0M1165.0 1040.0H1176.0" stroke="#a9a9a9" stroke-width="1.6" fill="none"/>
<path d="M1352.3 913.0V1103.0M1346.8 913.0H1357.8M1346.8 1103.0H1357.8" stroke="#a9a9a9" stroke-width="1.6" fill="none"/>
<path d="M1352.3 918.0V1045.8M1346.8 918.0H1357.8M1346.8 1045.8H1357.8" stroke="#a9a9a9" stroke-width="1.6" fill="none"/>
<path d="M1352.3 962.9V1052.6M1346.8 962.9H1357.8M1346.8 1052.6H1357.8" stroke="#a9a9a9" stroke-width="1.6" fill="none"/>
<line x1="994.1" y1="957.4" x2="1612.8" y2="957.4" stroke="#000" stroke-width="2.9" stroke-linecap="round"/>
<line x1="994.1" y1="886.3" x2="994.1" y2="1170.6" stroke="#000" stroke-width="2.5"/>
<circle cx="1170.5" cy="964.2" r="6.5" fill="#b6b6b6"/>
<circle cx="1170.5" cy="973.4" r="6.5" fill="#b6b6b6"/>
<circle cx="1170.5" cy="1023.6" r="6.5" fill="#b6b6b6"/>
<circle cx="1170.5" cy="1032.3" r="6.5" fill="#b6b6b6"/>
<circle cx="1352.3" cy="979.6" r="6.5" fill="#b6b6b6"/>
<circle cx="1352.3" cy="985.7" r="6.5" fill="#b6b6b6"/>
<circle cx="1352.3" cy="1032.8" r="6.5" fill="#b6b6b6"/>
<rect x="1164.2" y="992.8" width="12.5" height="12.5" fill="#000"/>
<rect x="1346.0" y="1001.5" width="12.5" height="12.5" fill="#000"/>
<line x1="1001.1" y1="999.7" x2="1612.8" y2="999.7" stroke="#cfcfcf" stroke-width="1.8" stroke-dasharray="9.7 4.9"/>
<line x1="1001.1" y1="1042.6" x2="1612.8" y2="1042.6" stroke="#c2c2c2" stroke-width="3.3" stroke-linecap="round" stroke-dasharray="0 7.9"/>
<line x1="1170.5" y1="998.0" x2="1352.3" y2="1007.7" stroke="#000" stroke-width="3.2" stroke-linecap="round"/>
<text x="135.7" y="1227.0" font-size="22.6" text-anchor="middle">0</text>
<text x="269.2" y="1227.0" font-size="22.6" text-anchor="middle">20</text>
<text x="402.7" y="1227.0" font-size="22.6" text-anchor="middle">40</text>
<text x="536.3" y="1227.0" font-size="22.6" text-anchor="middle">60</text>
<text x="669.8" y="1227.0" font-size="22.6" text-anchor="middle">80</text>
<text x="803.3" y="1227.0" font-size="22.6" text-anchor="middle">100</text>
<text x="782.7" y="1245.5" font-size="22.6">Days</text>
<text x="111.1" y="1260.7" font-size="22.6" text-anchor="end">2.0</text>
<text x="111.1" y="1327.7" font-size="22.6" text-anchor="end">1.0</text>
<text x="111.1" y="1394.7" font-size="22.6" text-anchor="end">0.0</text>
<text x="111.1" y="1461.7" font-size="22.6" text-anchor="end">-1.0</text>
<text x="111.1" y="1528.7" font-size="22.6" text-anchor="end">-2.0</text>
<text transform="translate(24.2,1483.8) rotate(-90)" font-size="23.4" textLength="196.9" lengthAdjust="spacingAndGlyphs">Hip Flexor Muscle</text>
<text transform="translate(57.1,1441.4) rotate(-90)" font-size="23.4" textLength="112.2" lengthAdjust="spacingAndGlyphs">Effect Size</text>
<path d="M734.3 1312.7V1463.1M728.8 1312.7H739.8M728.8 1463.1H739.8" stroke="#a9a9a9" stroke-width="1.6" fill="none"/>
<path d="M734.3 1339.3V1436.9M728.8 1339.3H739.8M728.8 1436.9H739.8" stroke="#a9a9a9" stroke-width="1.6" fill="none"/>
<line x1="134.7" y1="1386.7" x2="769.4" y2="1386.7" stroke="#000" stroke-width="2.9" stroke-linecap="round"/>
<line x1="134.7" y1="1252.9" x2="134.7" y2="1520.2" stroke="#000" stroke-width="2.5"/>
<circle cx="734.3" cy="1375.0" r="6.5" fill="#b6b6b6"/>
<rect x="728.0" y="1399.0" width="12.5" height="12.5" fill="#000"/>
<line x1="141.7" y1="1427.0" x2="769.4" y2="1427.0" stroke="#cfcfcf" stroke-width="1.8" stroke-dasharray="9.7 4.9"/>
<line x1="141.7" y1="1467.9" x2="769.4" y2="1467.9" stroke="#c2c2c2" stroke-width="3.3" stroke-linecap="round" stroke-dasharray="0 7.9"/>
<text x="1032.5" y="1234.0" font-size="22.5" text-anchor="middle">0</text>
<text x="1155.1" y="1234.0" font-size="22.5" text-anchor="middle">20</text>
<text x="1277.7" y="1234.0" font-size="22.5" text-anchor="middle">40</text>
<text x="1400.3" y="1234.0" font-size="22.5" text-anchor="middle">60</text>
<text x="1522.9" y="1234.0" font-size="22.5" text-anchor="middle">80</text>
<text x="1645.5" y="1234.0" font-size="22.5" text-anchor="middle">100</text>
<text x="1625.7" y="1256.6" font-size="22.5">Days</text>
<text x="1008.5" y="1265.5" font-size="22.5" text-anchor="end">2.0</text>
<text x="1008.5" y="1304.8" font-size="22.5" text-anchor="end">0.0</text>
<text x="1008.5" y="1344.1" font-size="22.5" text-anchor="end">-2.0</text>
<text x="1008.5" y="1383.3" font-size="22.5" text-anchor="end">-4.0</text>
<text x="1008.5" y="1422.6" font-size="22.5" text-anchor="end">-6.0</text>
<text x="1008.5" y="1461.9" font-size="22.5" text-anchor="end">-8.0</text>
<text x="1008.5" y="1501.2" font-size="22.5" text-anchor="end">-10.0</text>
<text x="1008.5" y="1540.5" font-size="22.5" text-anchor="end">-12.0</text>
<text transform="translate(880.9,1493.7) rotate(-90)" font-size="23.3" textLength="194.7" lengthAdjust="spacingAndGlyphs">Other Lower Limb</text>
<text transform="translate(912.5,1433.5) rotate(-90)" font-size="23.3" textLength="76.1" lengthAdjust="spacingAndGlyphs">Muscle</text>
<text transform="translate(945.9,1450.2) rotate(-90)" font-size="23.3" textLength="109.2" lengthAdjust="spacingAndGlyphs">Effect Size</text>
<path d="M1074.6 1275.6V1324.0M1069.1 1275.6H1080.1M1069.1 1324.0H1080.1" stroke="#a9a9a9" stroke-width="1.6" fill="none"/>
<path d="M1117.7 1288.3V1332.8M1112.2 1288.3H1123.2M1112.2 1332.8H1123.2" stroke="#a9a9a9" stroke-width="1.6" fill="none"/>
<path d="M1117.7 1291.6V1329.3M1112.2 1291.6H1123.2M1112.2 1329.3H1123.2" stroke="#a9a9a9" stroke-width="1.6" fill="none"/>
<path d="M1154.3 1279.1V1351.2M1148.8 1279.1H1159.8M1148.8 1351.2H1159.8" stroke="#a9a9a9" stroke-width="1.6" fill="none"/>
<path d="M1154.3 1292.0V1331.7M1148.8 1292.0H1159.8M1148.8 1331.7H1159.8" stroke="#a9a9a9" stroke-width="1.6" fill="none"/>
<path d="M1197.7 1272.6V1322.3M1192.2 1272.6H1203.2M1192.2 1322.3H1203.2" stroke="#a9a9a9" stroke-width="1.6" fill="none"/>
<path d="M1197.7 1279.6V1327.7M1192.2 1279.6H1203.2M1192.2 1327.7H1203.2" stroke="#a9a9a9" stroke-width="1.6" fill="none"/>
<path d="M1203.1 1285.0V1327.7M1197.6 1285.0H1208.6M1197.6 1327.7H1208.6" stroke="#a9a9a9" stroke-width="1.6" fill="none"/>
<path d="M1197.7 1389.6V1499.7M1192.2 1389.6H1203.2M1192.2 1499.7H1203.2" stroke="#a9a9a9" stroke-width="1.6" fill="none"/>
<path d="M1289.2 1285.5V1332.8M1283.7 1285.5H1294.7M1283.7 1332.8H1294.7" stroke="#a9a9a9" stroke-width="1.6" fill="none"/>
<path d="M1289.2 1292.0V1325.5M1283.7 1292.0H1294.7M1283.7 1325.5H1294.7" stroke="#a9a9a9" stroke-width="1.6" fill="none"/>
<path d="M1368.4 1293.8V1330.0M1362.9 1293.8H1373.9M1362.9 1330.0H1373.9" stroke="#a9a9a9" stroke-width="1.6" fill="none"/>
<path d="M1375.0 1300.0V1336.5M1369.5 1300.0H1380.5M1369.5 1336.5H1380.5" stroke="#a9a9a9" stroke-width="1.6" fill="none"/>
<line x1="1031.5" y1="1296.8" x2="1613.8" y2="1296.8" stroke="#000" stroke-width="2.9" stroke-linecap="round"/>
<line x1="1031.5" y1="1258.0" x2="1031.5" y2="1533.0" stroke="#000" stroke-width="2.5"/>
<circle cx="1154.3" cy="1321.2" r="6.5" fill="#b6b6b6"/>
<circle cx="1197.7" cy="1445.0" r="6.5" fill="#b6b6b6"/>
<rect x="1148.0" y="1272.8" width="12.5" height="12.5" fill="#ababab"/>
<rect x="1191.5" y="1266.3" width="12.5" height="12.5" fill="#ababab"/>
<rect x="1192.8" y="1273.3" width="12.5" height="12.5" fill="#ababab"/>
<rect x="1191.5" y="1284.2" width="12.5" height="12.5" fill="#ababab"/>
<rect x="1362.2" y="1276.5" width="12.5" height="12.5" fill="#ababab"/>
<rect x="1357.8" y="1313.8" width="12.5" height="12.5" fill="#ababab"/>
<rect x="1068.3" y="1293.7" width="12.5" height="12.5" fill="#000"/>
<rect x="1111.5" y="1306.2" width="12.5" height="12.5" fill="#000"/>
<rect x="1148.0" y="1301.2" width="12.5" height="12.5" fill="#000"/>
<rect x="1191.5" y="1307.7" width="12.5" height="12.5" fill="#000"/>
<rect x="1196.8" y="1295.2" width="12.5" height="12.5" fill="#000"/>
<rect x="1283.0" y="1302.5" width="12.5" height="12.5" fill="#000"/>
<rect x="1362.2" y="1296.3" width="12.5" height="12.5" fill="#000"/>
<rect x="1368.8" y="1309.5" width="12.5" height="12.5" fill="#000"/>
<line x1="1038.5" y1="1309.1" x2="1613.8" y2="1309.1" stroke="#cfcfcf" stroke-width="1.8" stroke-dasharray="9.7 4.9"/>
<line x1="1038.5" y1="1321.2" x2="1613.8" y2="1321.2" stroke="#c2c2c2" stroke-width="3.3" stroke-linecap="round" stroke-dasharray="0 7.9"/>
<line x1="1074.6" y1="1304.2" x2="1372.0" y2="1309.6" stroke="#000" stroke-width="3.8" stroke-linecap="round"/>
<line x1="1200" y1="1309" x2="1375" y2="1310.5" stroke="#000" stroke-width="3.5" stroke-dasharray="4 3"/>
<text x="137.3" y="1610.9" font-size="22.4" text-anchor="middle">0</text>
<text x="264.1" y="1610.9" font-size="22.4" text-anchor="middle">20</text>
<text x="390.9" y="1610.9" font-size="22.4" text-anchor="middle">40</text>
<text x="517.7" y="1610.9" font-size="22.4" text-anchor="middle">60</text>
<text x="644.5" y="1610.9" font-size="22.4" text-anchor="middle">80</text>
<text x="771.3" y="1610.9" font-size="22.4" text-anchor="middle">100</text>
<text x="748.8" y="1633.9" font-size="22.4">Days</text>
<text x="115.2" y="1645.0" font-size="22.4" text-anchor="end">2.0</text>
<text x="115.2" y="1717.9" font-size="22.4" text-anchor="end">1.0</text>
<text x="115.2" y="1790.8" font-size="22.4" text-anchor="end">0.0</text>
<text x="115.2" y="1863.7" font-size="22.4" text-anchor="end">-1.0</text>
<text x="115.2" y="1936.6" font-size="22.4" text-anchor="end">-2.0</text>
<text transform="translate(27.7,1905.0) rotate(-90)" font-size="23.2" textLength="245.8" lengthAdjust="spacingAndGlyphs">Erector Spinae Muscle</text>
<text transform="translate(60.3,1837.8) rotate(-90)" font-size="23.2" textLength="111.4" lengthAdjust="spacingAndGlyphs">Effect Size</text>
<path d="M307.8 1663.5V1869.9M302.3 1663.5H313.3M302.3 1869.9H313.3" stroke="#a9a9a9" stroke-width="1.6" fill="none"/>
<path d="M307.8 1681.4V1839.1M302.3 1681.4H313.3M302.3 1839.1H313.3" stroke="#a9a9a9" stroke-width="1.6" fill="none"/>
<path d="M307.8 1701.9V1818.6M302.3 1701.9H313.3M302.3 1818.6H313.3" stroke="#a9a9a9" stroke-width="1.6" fill="none"/>
<path d="M484.5 1675.2V1861.2M479.0 1675.2H490.0M479.0 1861.2H490.0" stroke="#a9a9a9" stroke-width="1.6" fill="none"/>
<path d="M484.5 1678.8V1823.8M479.0 1678.8H490.0M479.0 1823.8H490.0" stroke="#a9a9a9" stroke-width="1.6" fill="none"/>
<path d="M484.5 1683.0V1814.5M479.0 1683.0H490.0M479.0 1814.5H490.0" stroke="#a9a9a9" stroke-width="1.6" fill="none"/>
<path d="M484.5 1725.4V1815.0M479.0 1725.4H490.0M479.0 1815.0H490.0" stroke="#a9a9a9" stroke-width="1.6" fill="none"/>
<path d="M706.8 1753.6V1892.9M701.3 1753.6H712.3M701.3 1892.9H712.3" stroke="#a9a9a9" stroke-width="1.6" fill="none"/>
<line x1="137.3" y1="1783.9" x2="739.0" y2="1783.9" stroke="#000" stroke-width="2.9" stroke-linecap="round"/>
<line x1="137.3" y1="1636.8" x2="137.3" y2="1930.0" stroke="#000" stroke-width="2.5"/>
<circle cx="307.8" cy="1734.1" r="6.5" fill="#b6b6b6"/>
<circle cx="307.8" cy="1750.5" r="6.5" fill="#b6b6b6"/>
<circle cx="307.8" cy="1770.0" r="6.5" fill="#b6b6b6"/>
<circle cx="307.8" cy="1800.7" r="6.5" fill="#b6b6b6"/>
<circle cx="484.5" cy="1743.4" r="6.5" fill="#b6b6b6"/>
<circle cx="484.5" cy="1749.5" r="6.5" fill="#b6b6b6"/>
<circle cx="484.5" cy="1794.6" r="6.5" fill="#b6b6b6"/>
<rect x="301.6" y="1757.5" width="12.5" height="12.5" fill="#000"/>
<rect x="478.2" y="1754.5" width="12.5" height="12.5" fill="#000"/>
<rect x="700.5" y="1816.2" width="12.5" height="12.5" fill="#000"/>
<line x1="144.3" y1="1827.2" x2="739.0" y2="1827.2" stroke="#cfcfcf" stroke-width="1.8" stroke-dasharray="9.7 4.9"/>
<line x1="144.3" y1="1872.1" x2="739.0" y2="1872.1" stroke="#c2c2c2" stroke-width="3.3" stroke-linecap="round" stroke-dasharray="0 7.9"/>
<line x1="308.8" y1="1752.0" x2="706.8" y2="1814.5" stroke="#000" stroke-width="3.8" stroke-linecap="round"/>
<text x="994.6" y="1616.2" font-size="22.5" text-anchor="middle">0</text>
<text x="1123.9" y="1616.2" font-size="22.5" text-anchor="middle">20</text>
<text x="1253.3" y="1616.2" font-size="22.5" text-anchor="middle">40</text>
<text x="1382.6" y="1616.2" font-size="22.5" text-anchor="middle">60</text>
<text x="1512.0" y="1616.2" font-size="22.5" text-anchor="middle">80</text>
<text x="1641.3" y="1616.2" font-size="22.5" text-anchor="middle">100</text>
<text x="1622.5" y="1639.4" font-size="22.5">Days</text>
<text x="972.6" y="1648.2" font-size="22.5" text-anchor="end">1.0</text>
<text x="972.6" y="1744.7" font-size="22.5" text-anchor="end">0.0</text>
<text x="972.6" y="1841.2" font-size="22.5" text-anchor="end">-1.0</text>
<text x="972.6" y="1937.7" font-size="22.5" text-anchor="end">-2.0</text>
<text transform="translate(887.1,1882.2) rotate(-90)" font-size="23.3" textLength="194.1" lengthAdjust="spacingAndGlyphs">Multifidus Muscle</text>
<text transform="translate(919.2,1839.6) rotate(-90)" font-size="23.3" textLength="110.1" lengthAdjust="spacingAndGlyphs">Effect Size</text>
<path d="M1575.4 1716.2V1900.8M1569.9 1716.2H1580.9M1569.9 1900.8H1580.9" stroke="#a9a9a9" stroke-width="1.6" fill="none"/>
<line x1="994.6" y1="1736.7" x2="1608.7" y2="1736.7" stroke="#000" stroke-width="2.9" stroke-linecap="round"/>
<line x1="994.6" y1="1640.9" x2="994.6" y2="1929.2" stroke="#000" stroke-width="2.5"/>
<rect x="1569.2" y="1801.8" width="12.5" height="12.5" fill="#000"/>
<line x1="1001.6" y1="1794.6" x2="1606.6" y2="1794.6" stroke="#cfcfcf" stroke-width="1.8" stroke-dasharray="9.7 4.9"/>
<line x1="1001.6" y1="1854.1" x2="1606.6" y2="1854.1" stroke="#c2c2c2" stroke-width="3.3" stroke-linecap="round" stroke-dasharray="0 7.9"/>
<text x="139.3" y="1978.4" font-size="22.8" text-anchor="middle">0</text>
<text x="274.7" y="1978.4" font-size="22.8" text-anchor="middle">20</text>
<text x="410.1" y="1978.4" font-size="22.8" text-anchor="middle">40</text>
<text x="545.5" y="1978.4" font-size="22.8" text-anchor="middle">60</text>
<text x="680.9" y="1978.4" font-size="22.8" text-anchor="middle">80</text>
<text x="816.3" y="1978.4" font-size="22.8" text-anchor="middle">100</text>
<text x="802.4" y="2002.0" font-size="22.8">Days</text>
<text x="116.8" y="2012.9" font-size="22.8" text-anchor="end">3.0</text>
<text x="116.8" y="2073.8" font-size="22.8" text-anchor="end">2.0</text>
<text x="116.8" y="2134.7" font-size="22.8" text-anchor="end">1.0</text>
<text x="116.8" y="2195.6" font-size="22.8" text-anchor="end">0.0</text>
<text x="116.8" y="2256.5" font-size="22.8" text-anchor="end">-1.0</text>
<text x="116.8" y="2317.4" font-size="22.8" text-anchor="end">-2.0</text>
<text transform="translate(27.7,2271.6) rotate(-90)" font-size="23.6" textLength="229.1" lengthAdjust="spacingAndGlyphs">Other Trunk Muscle</text>
<text transform="translate(61.2,2213.2) rotate(-90)" font-size="23.6" textLength="113.7" lengthAdjust="spacingAndGlyphs">Effect Size</text>
<path d="M321.6 2070.0V2237.4M316.1 2070.0H327.1M316.1 2237.4H327.1" stroke="#a9a9a9" stroke-width="1.6" fill="none"/>
<path d="M321.6 2096.6V2232.3M316.1 2096.6H327.1M316.1 2232.3H327.1" stroke="#a9a9a9" stroke-width="1.6" fill="none"/>
<path d="M321.6 2106.8V2219.5M316.1 2106.8H327.1M316.1 2219.5H327.1" stroke="#a9a9a9" stroke-width="1.6" fill="none"/>
<path d="M321.6 2119.6V2211.8M316.1 2119.6H327.1M316.1 2211.8H327.1" stroke="#a9a9a9" stroke-width="1.6" fill="none"/>
<path d="M510.6 2091.5V2232.3M505.1 2091.5H516.1M505.1 2232.3H516.1" stroke="#a9a9a9" stroke-width="1.6" fill="none"/>
<path d="M510.6 2099.1V2215.9M505.1 2099.1H516.1M505.1 2215.9H516.1" stroke="#a9a9a9" stroke-width="1.6" fill="none"/>
<path d="M510.6 2120.6V2206.7M505.1 2120.6H516.1M505.1 2206.7H516.1" stroke="#a9a9a9" stroke-width="1.6" fill="none"/>
<path d="M748.2 2139.0V2253.6M742.7 2139.0H753.7M742.7 2253.6H753.7" stroke="#a9a9a9" stroke-width="1.6" fill="none"/>
<path d="M748.2 2147.2V2249.6M742.7 2147.2H753.7M742.7 2249.6H753.7" stroke="#a9a9a9" stroke-width="1.6" fill="none"/>
<line x1="139.3" y1="2187.5" x2="782.2" y2="2187.5" stroke="#000" stroke-width="2.9" stroke-linecap="round"/>
<line x1="139.3" y1="2004.4" x2="139.3" y2="2309.1" stroke="#000" stroke-width="2.5"/>
<circle cx="321.6" cy="2129.9" r="6.5" fill="#b6b6b6"/>
<circle cx="321.6" cy="2154.4" r="6.5" fill="#b6b6b6"/>
<circle cx="321.6" cy="2175.9" r="6.5" fill="#b6b6b6"/>
<circle cx="321.6" cy="2179.5" r="6.5" fill="#b6b6b6"/>
<circle cx="510.6" cy="2149.3" r="6.5" fill="#b6b6b6"/>
<circle cx="510.6" cy="2176.0" r="6.5" fill="#b6b6b6"/>
<rect x="315.4" y="2154.3" width="12.5" height="12.5" fill="#000"/>
<rect x="504.4" y="2154.3" width="12.5" height="12.5" fill="#000"/>
<rect x="742.0" y="2191.4" width="12.5" height="12.5" fill="#000"/>
<line x1="146.3" y1="2224.8" x2="782.5" y2="2224.8" stroke="#cfcfcf" stroke-width="1.8" stroke-dasharray="9.7 4.9"/>
<line x1="146.3" y1="2261.5" x2="782.5" y2="2261.5" stroke="#c2c2c2" stroke-width="3.3" stroke-linecap="round" stroke-dasharray="0 7.9"/>
<line x1="321.6" y1="2153.9" x2="747.8" y2="2192.4" stroke="#000" stroke-width="3.8" stroke-linecap="round"/>
</g>
</svg>
</body></html>
